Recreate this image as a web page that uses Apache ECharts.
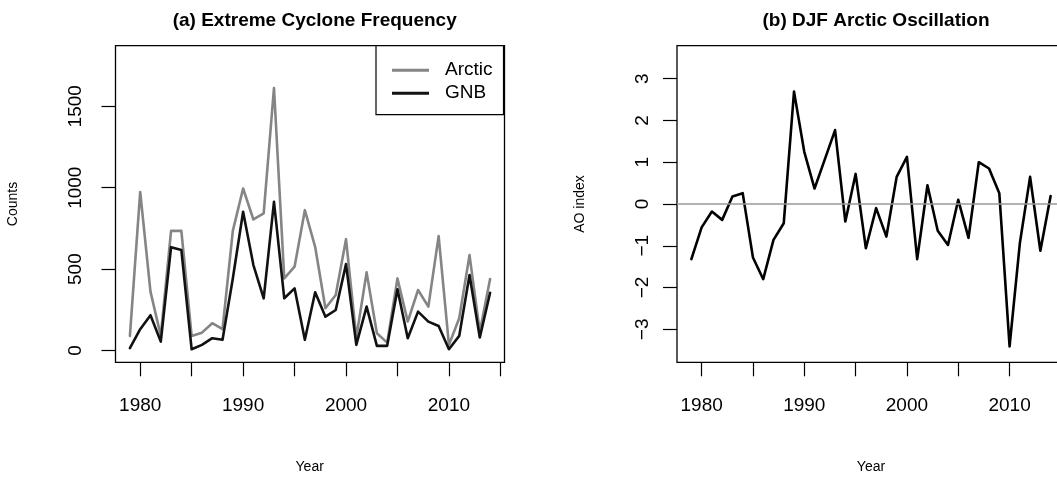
<!DOCTYPE html>
<html>
<head>
<meta charset="utf-8">
<script src="https://cdn.jsdelivr.net/npm/echarts@6/dist/echarts.min.js"></script>
<style>
html,body{margin:0;padding:0;background:#fff;}
#c{width:1057px;height:481px;}
</style>
</head>
<body>
<div id="c"></div>
<script>
var years = [1979,1980,1981,1982,1983,1984,1985,1986,1987,1988,1989,1990,1991,1992,1993,1994,1995,1996,1997,1998,1999,2000,2001,2002,2003,2004,2005,2006,2007,2008,2009,2010,2011,2012,2013,2014];
var arctic = [90,974,362,90,735,735,90,110,168,131,735,995,805,842,1612,443,515,862,637,260,341,684,80,480,106,49,443,178,372,270,703,35,198,586,116,439];
var gnb = [15,131,217,55,635,617,8,35,76,66,443,852,525,321,913,321,382,66,358,208,249,531,35,270,29,29,376,76,239,178,151,8,90,464,80,355];
var ao = [-1.32,-0.56,-0.18,-0.38,0.18,0.26,-1.28,-1.80,-0.86,-0.46,2.69,1.25,0.37,1.07,1.77,-0.42,0.72,-1.06,-0.10,-0.78,0.65,1.13,-1.32,0.45,-0.64,-0.98,0.10,-0.81,1.00,0.85,0.26,-3.41,-0.94,0.65,-1.12,0.19];
var xTicks = [1980,1985,1990,1995,2000,2005,2010,2015];
var xLabels = [1980,1990,2000,2010];
var countTicks = [0,500,1000,1500];
var aoTicks = [-3,-2,-1,0,1,2,3];

function pairs(v){ return years.map(function(y,i){ return [y, v[i]]; }); }

var FONT = '"Liberation Sans", Arial, Helvetica, sans-serif';
var chart = echarts.init(document.getElementById('c'), null, {renderer:'canvas'});

function xAxis(gi){
  return {
    type:'value', gridIndex:gi, min:1977.6, max:2015.4,
    axisLine:{show:false, onZero:false},
    splitLine:{show:false},
    axisTick:{show:true, length:14, customValues:xTicks, lineStyle:{color:'#000', width:1.2}},
    axisLabel:{show:true, customValues:xLabels, margin:34, fontFamily:FONT, fontSize:19, color:'#000',
      formatter:function(v){return String(v);}}
  };
}
function yAxis(gi, mn, mx, ticks, fmt, margin){
  return {
    type:'value', gridIndex:gi, min:mn, max:mx,
    axisLine:{show:false, onZero:false},
    splitLine:{show:false},
    axisTick:{show:true, length:14, customValues:ticks, lineStyle:{color:'#000', width:1.2}},
    axisLabel:{show:true, customValues:ticks, rotate:90, margin:margin, fontFamily:FONT, fontSize:19, color:'#000', formatter:fmt}
  };
}

var option = {
  animation:false,
  backgroundColor:'#fff',
  grid:[
    {left:115.5, top:45.7, width:389, height:316.6, show:true, borderColor:'#000', borderWidth:1.3, backgroundColor:'transparent', outerBoundsMode:'none', containLabel:false},
    {left:677, top:45.7, width:388, height:316.6, show:true, borderColor:'#000', borderWidth:1.3, backgroundColor:'transparent', outerBoundsMode:'none', containLabel:false}
  ],
  xAxis:[xAxis(0), xAxis(1)],
  yAxis:[
    yAxis(0, -72, 1872, countTicks, function(v){return String(v);}, 30),
    yAxis(1, -3.79, 3.79, aoTicks, function(v){return String(v).replace('-', '\u2212');}, 25)
  ],
  legend:{
    left:376, top:45.7, orient:'vertical',
    data:['Arctic','GNB'],
    backgroundColor:'#fff',
    borderColor:'#000', borderWidth:1.2,
    padding:[15,11,12,16],
    itemGap:4, itemWidth:37, itemHeight:3, icon:'rect',
    textStyle:{fontFamily:FONT, fontSize:19, color:'#000', padding:[0,0,0,11]}
  },
  title:[
    {text:'(a) Extreme Cyclone Frequency', left:309.7, top:6, textAlign:'center',
     textStyle:{fontFamily:FONT, fontSize:19, fontWeight:'bold', color:'#000'}},
    {text:'(b) DJF Arctic Oscillation', left:871, top:6, textAlign:'center',
     textStyle:{fontFamily:FONT, fontSize:19, fontWeight:'bold', color:'#000'}}
  ],
  graphic:[
    {type:'text', x:309.7, y:466.7, style:{text:'Year', fill:'#000', font:'14px '+FONT, textAlign:'center', textVerticalAlign:'middle'}},
    {type:'text', x:871, y:466.7, style:{text:'Year', fill:'#000', font:'14px '+FONT, textAlign:'center', textVerticalAlign:'middle'}},
    {type:'text', x:13, y:204, rotation:Math.PI/2, style:{text:'Counts', fill:'#000', font:'14px '+FONT, textAlign:'center', textVerticalAlign:'middle'}},
    {type:'text', x:580, y:204, rotation:Math.PI/2, style:{text:'AO index', fill:'#000', font:'14px '+FONT, textAlign:'center', textVerticalAlign:'middle'}}
  ],
  series:[
    {name:'Arctic', type:'line', xAxisIndex:0, yAxisIndex:0, data:pairs(arctic), symbol:'none', color:'#858585',
     lineStyle:{color:'#858585', width:2.6, join:'round', cap:'round'}, z:2},
    {name:'GNB', type:'line', xAxisIndex:0, yAxisIndex:0, data:pairs(gnb), symbol:'none', color:'#111',
     lineStyle:{color:'#111', width:2.6, join:'round', cap:'round'}, z:3},
    {name:'AO', type:'line', xAxisIndex:1, yAxisIndex:1, data:pairs(ao), symbol:'none', color:'#000',
     lineStyle:{color:'#000', width:2.6, join:'round', cap:'round'}, z:3,
     markLine:{silent:true, symbol:['none','none'], label:{show:false},
       lineStyle:{color:'#999', width:1.6, type:'solid'}, data:[{yAxis:0}]}}
  ]
};
chart.setOption(option);
</script>
</body>
</html>
